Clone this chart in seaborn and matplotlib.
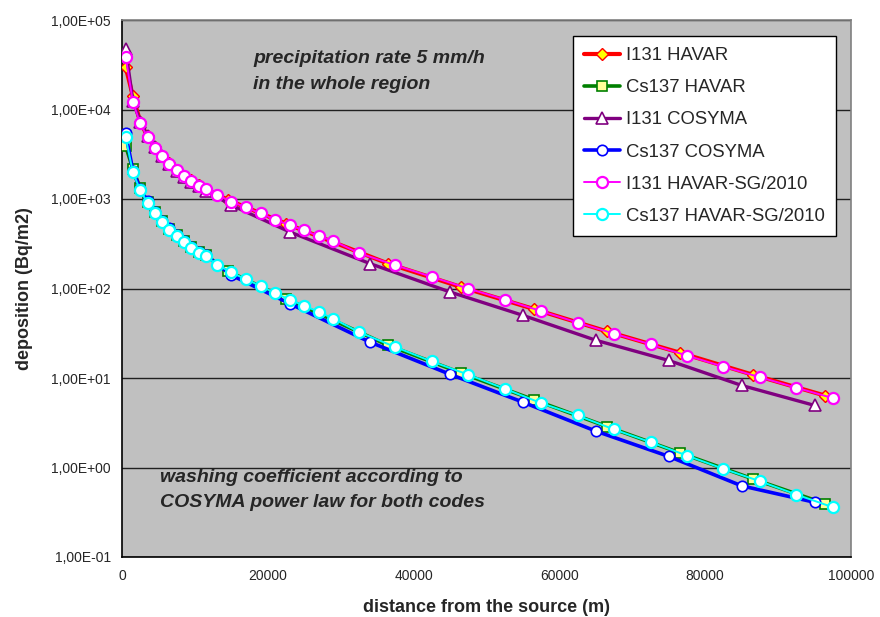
import numpy as np
import pandas as pd
import matplotlib
matplotlib.use("Agg")
import matplotlib.pyplot as plt
from matplotlib.ticker import FixedLocator, FuncFormatter, LogLocator, NullFormatter
import seaborn as sns

# ---------------- data ----------------
d_havar = [500, 1500, 2500, 3500, 4500, 5500, 6500, 7500, 8500, 9500, 10500, 11500,
           14500, 22500, 36500, 46500, 56500, 66500, 76500, 86500, 96500]
i131_havar = [30000, 14000, 7300, 5000, 3800, 3060, 2520, 2120, 1830, 1620, 1430, 1300,
              980, 530, 190, 104, 59, 33.2, 19.2, 10.9, 6.34]
cs137_havar = [3900, 2150, 1330, 930, 710, 570, 468, 393, 337, 291, 258, 234,
               157, 77, 23.2, 11.4, 5.71, 2.87, 1.46, 0.748, 0.393]

d_cosyma = [500, 1500, 2500, 3500, 4500, 5500, 6500, 7500, 8500, 9500, 10500, 11500,
            15000, 23000, 34000, 45000, 55000, 65000, 75000, 85000, 95000]
i131_cosyma = [47000, 12500, 7300, 5050, 3850, 3000, 2450, 2060, 1770, 1560, 1380, 1240,
               853, 429, 190, 91.4, 50.1, 26.4, 15.7, 8.26, 4.94]
cs137_cosyma = [5400, 2050, 1300, 940, 715, 575, 470, 395, 338, 292, 258, 235,
                141, 67.8, 25.2, 11.0, 5.37, 2.55, 1.33, 0.624, 0.409]

d_sg = [500, 1500, 2500, 3500, 4500, 5500, 6500, 7500, 8500, 9500, 10500, 11500,
        13000, 15000, 17000, 19000, 21000, 23000, 25000, 27000, 29000, 32500, 37500,
        42500, 47500, 52500, 57500, 62500, 67500, 72500, 77500, 82500, 87500, 92500, 97500]
i131_sg = [38900, 12000, 7000, 4880, 3730, 3010, 2470, 2085, 1800, 1590, 1400, 1280,
           1117, 937, 806, 689, 590, 509, 446, 384, 340, 249, 182,
           135, 99.8, 75.2, 55.9, 41.6, 31.3, 23.8, 17.8, 13.4, 10.2, 7.79, 5.96]
cs137_sg = [4870, 1980, 1254, 904, 689, 555, 456, 384, 329, 284, 252, 229,
            185, 151, 127, 107, 89, 75, 64.3, 54.6, 46, 32.6, 22.2,
            15.3, 10.9, 7.59, 5.24, 3.82, 2.66, 1.92, 1.36, 0.966, 0.703, 0.499, 0.36]

series_labels = ["I131 HAVAR", "Cs137 HAVAR", "I131 COSYMA", "Cs137 COSYMA",
                 "I131 HAVAR-SG/2010", "Cs137 HAVAR-SG/2010"]
x_ticks = [0, 20000, 40000, 60000, 80000, 100000]
y_ticks = [1e-1, 1e0, 1e1, 1e2, 1e3, 1e4, 1e5]

# ---------------- figure ----------------
sns.set_style("white")
plt.rcParams["font.family"] = ["Liberation Sans", "DejaVu Sans"]

fig = plt.figure(figsize=(8.8, 6.17), dpi=100)
W, H = 880, 617
L, R, T, B = 122, 851, 20, 557
ax = fig.add_axes([L / W, 1 - B / H, (R - L) / W, (B - T) / H])
ax.set_facecolor("#C0C0C0")

styles = [
    dict(x=d_havar, y=i131_havar, color="#FF0000", lw=3.0, marker="D", ms=6.5,
         mfc="#FFFF00", mec="#FF0000", mew=1.0),
    dict(x=d_havar, y=cs137_havar, color="#008000", lw=2.6, marker="s", ms=7.5,
         mfc="#FFFF99", mec="#008000", mew=1.2),
    dict(x=d_cosyma, y=i131_cosyma, color="#800080", lw=2.4, marker="^", ms=8,
         mfc="#FFFFFF", mec="#800080", mew=1.2),
    dict(x=d_cosyma, y=cs137_cosyma, color="#0000FF", lw=2.6, marker="o", ms=7.5,
         mfc="#FFFFFF", mec="#0000FF", mew=1.2),
    dict(x=d_sg, y=i131_sg, color="#FF00FF", lw=1.4, marker="o", ms=8,
         mfc="#FFFFFF", mec="#FF00FF", mew=1.6),
    dict(x=d_sg, y=cs137_sg, color="#00FFFF", lw=1.4, marker="o", ms=8,
         mfc="#FFFFFF", mec="#00FFFF", mew=1.6),
]

for i, (st, lab) in enumerate(zip(styles, series_labels)):
    sns.lineplot(x=st["x"], y=st["y"], ax=ax, color=st["color"], linewidth=st["lw"],
                 marker=st["marker"], markersize=st["ms"], markerfacecolor=st["mfc"],
                 markeredgecolor=st["mec"], markeredgewidth=st["mew"],
                 label=lab, estimator=None, sort=False, zorder=3 + i)

ax.set_yscale("log")
ax.set_xlim(0, 100000)
ax.set_ylim(0.1, 1e5)

ax.xaxis.set_major_locator(FixedLocator(x_ticks))
ax.xaxis.set_major_formatter(FuncFormatter(lambda v, p: f"{int(v)}"))
ax.yaxis.set_major_locator(FixedLocator(y_ticks))
ax.yaxis.set_major_formatter(FuncFormatter(lambda v, p: f"{v:.2E}".replace(".", ",")))
ax.yaxis.set_minor_locator(LogLocator(base=10, subs=np.arange(2, 10), numticks=20))
ax.yaxis.set_minor_formatter(NullFormatter())

ax.tick_params(axis="both", which="major", direction="out", length=5, width=1,
               color="black", labelsize=10, pad=3)
ax.tick_params(axis="y", which="minor", direction="out", length=3, width=1, color="black")
ax.tick_params(axis="x", which="major", pad=4)

ax.grid(axis="y", which="major", color="#202020", linewidth=1.0)
ax.set_axisbelow(True)

for side in ["left", "bottom"]:
    ax.spines[side].set_color("black")
    ax.spines[side].set_linewidth(1.2)
for side in ["top", "right"]:
    ax.spines[side].set_color("#808080")
    ax.spines[side].set_linewidth(1.2)
    ax.spines[side].set_visible(True)

ax.set_xlabel("distance from the source (m)", fontsize=13, fontweight="bold", labelpad=11)
ax.set_ylabel("deposition (Bq/m2)", fontsize=13, fontweight="bold", labelpad=13)

ax.text((253 - L) / (R - L), (B - 50) / (B - T),
        "precipitation rate 5 mm/h\nin the whole region",
        transform=ax.transAxes, ha="left", va="top", fontsize=14,
        fontweight="bold", fontstyle="italic", linespacing=1.7, zorder=20)
ax.text((160 - L) / (R - L), (B - 469) / (B - T),
        "washing coefficient according to\nCOSYMA power law for both codes",
        transform=ax.transAxes, ha="left", va="top", fontsize=14,
        fontweight="bold", fontstyle="italic", linespacing=1.6, zorder=20)

leg = ax.legend(loc="upper left",
                bbox_to_anchor=((573 - L) / (R - L), (B - 36) / (B - T)),
                fontsize=13.3, frameon=True, fancybox=False, shadow=False,
                framealpha=1, edgecolor="black", handlelength=1.95,
                handletextpad=0.3, labelspacing=0.82, borderpad=0.6,
                borderaxespad=0)
leg.get_frame().set_linewidth(1.0)
leg.set_zorder(30)

fig.savefig("out.png", dpi=100, facecolor="white")
